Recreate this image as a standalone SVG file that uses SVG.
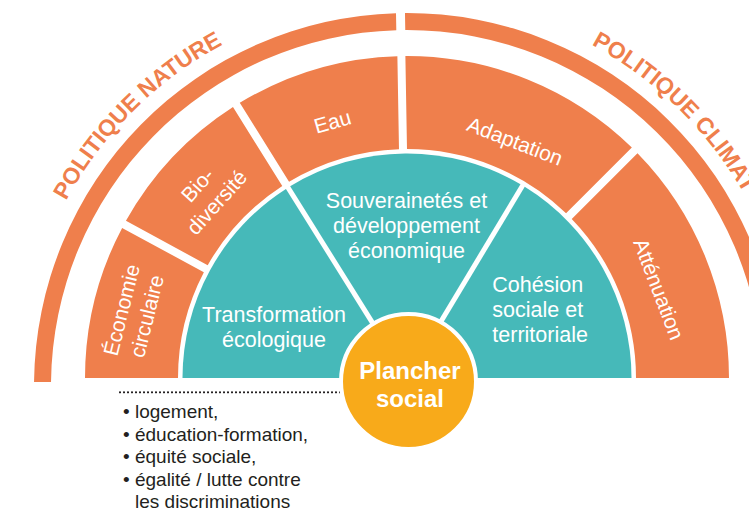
<svg xmlns="http://www.w3.org/2000/svg" width="749" height="511" viewBox="0 0 749 511">
  <style>
    .or { fill: #EF7F4C; }
    .tl { fill: #46B9B9; }
    .wl { font-family: "Liberation Sans", Arial, Helvetica, sans-serif; fill: #FFFFFF; font-size: 21px; }
    .mid { text-anchor: middle; }
    .ring { font-family: "Liberation Sans", Arial, Helvetica, sans-serif; font-weight: bold; font-size: 23px; fill: #EF7F4C; }
    .lst { font-family: "Liberation Sans", Arial, Helvetica, sans-serif; font-size: 19px; fill: #231F20; }
  </style>
  <defs>
    <path id="arcNature" d="M66.02,200.86 A388,388 0 0 1 339.62,3.89" fill="none"/>
    <path id="arcClimat" d="M591.54,44.70 A388,388 0 0 1 795,386" fill="none"/>
  </defs>
  <rect width="749" height="511" fill="#FFFFFF"/>

  <g id="politique-nature">
    <path class="or" d="M34.02,382 A373,373 0 0 1 396.0,13.16 L396.31,30.16 A356,356 0 0 0 51.02,382 Z"/>
    <text class="ring"><textPath href="#arcNature">POLITIQUE NATURE</textPath></text>
  </g>
  <g id="politique-climat">
    <path class="or" d="M404.98,13 A373,373 0 0 1 779.98,382 L762.98,382 A356,356 0 0 0 405.26,30 Z"/>
    <text class="ring"><textPath href="#arcClimat">POLITIQUE CLIMAT</textPath></text>
  </g>

  <g id="economie-circulaire">
    <path class="or" d="M85,378 A322,322 0 0 1 122.13,227.88 L203.87,272.26 A229,229 0 0 0 178,378 Z"/>
    <text class="wl mid" transform="translate(134,313) rotate(-76)"><tspan x="0" y="-5.5">Économie</tspan><tspan x="0" y="20.5">circulaire</tspan></text>
  </g>
  <g id="biodiversite">
    <path class="or" d="M125.95,220.85 A322,322 0 0 1 232.99,107.07 L282.28,185.94 A229,229 0 0 0 207.69,265.23 Z"/>
    <text class="wl mid" transform="translate(207,193.5) rotate(-48)"><tspan x="0" y="-5.5">Bio-</tspan><tspan x="0" y="20.5">diversité</tspan></text>
  </g>
  <g id="eau">
    <path class="or" d="M239.77,102.83 A322,322 0 0 1 397.38,56.14 L399.00,149.14 A229,229 0 0 0 289.06,181.71 Z"/>
    <text class="wl mid" transform="translate(332.5,121.5) rotate(-16)" y="7.5">Eau</text>
  </g>
  <g id="adaptation">
    <path class="or" d="M405.38,56.00 A322,322 0 0 1 631.84,147.50 L566.07,213.27 A229,229 0 0 0 407.00,149.00 Z"/>
    <text class="wl mid" transform="translate(515,141) rotate(21)" y="7.5">Adaptation</text>
  </g>
  <g id="attenuation">
    <path class="or" d="M637.50,153.16 A322,322 0 0 1 729,378 L636,378 A229,229 0 0 0 571.73,218.93 Z"/>
    <text class="wl mid" transform="translate(659,289) rotate(69)" y="7.5">Atténuation</text>
  </g>

  <g id="transformation-ecologique">
    <path class="tl" d="M182.5,378 A224.5,224.5 0 0 1 285.92,188.95 L404,378 Z"/>
    <text class="wl mid" style="font-size:21.5px"><tspan x="274" y="321.7">Transformation</tspan><tspan x="274" y="347">écologique</tspan></text>
  </g>
  <g id="souverainetes">
    <path class="tl" d="M290.16,186.30 A224.5,224.5 0 0 1 520.48,184.29 L406.96,373.21 Z"/>
    <text class="wl mid" style="font-size:21.5px"><tspan x="406.5" y="208">Souverainetés et</tspan><tspan x="406.5" y="233">développement</tspan><tspan x="406.5" y="258">économique</tspan></text>
  </g>
  <g id="cohesion">
    <path class="tl" d="M524.76,186.87 A224.5,224.5 0 0 1 631.5,378 L409.9,378 Z"/>
    <text class="wl" style="font-size:21.5px"><tspan x="492.3" y="291.7">Cohésion</tspan><tspan x="492.3" y="316.7">sociale et</tspan><tspan x="492.3" y="341.7">territoriale</tspan></text>
  </g>

  <g id="connectors">
    <line x1="120" y1="392.3" x2="344" y2="392.3" stroke="#231F20" stroke-width="2.2" stroke-linecap="round" stroke-dasharray="0 4"/>
  </g>

  <g id="plancher-social">
    <circle cx="408.5" cy="381.5" r="67.5" fill="#F8AA1A" stroke="#FFFFFF" stroke-width="4"/>
    <text class="wl mid" style="font-size:24px;font-weight:bold"><tspan x="410" y="379">Plancher</tspan><tspan x="410" y="407.3">social</tspan></text>
  </g>

  <g id="liste">
    <text class="lst"><tspan x="123" y="418">• logement,</tspan><tspan x="123" y="440.5">• éducation-formation,</tspan><tspan x="123" y="463">• équité sociale,</tspan><tspan x="123" y="485.5">• égalité / lutte contre</tspan><tspan x="135" y="508">les discriminations</tspan></text>
  </g>
</svg>
